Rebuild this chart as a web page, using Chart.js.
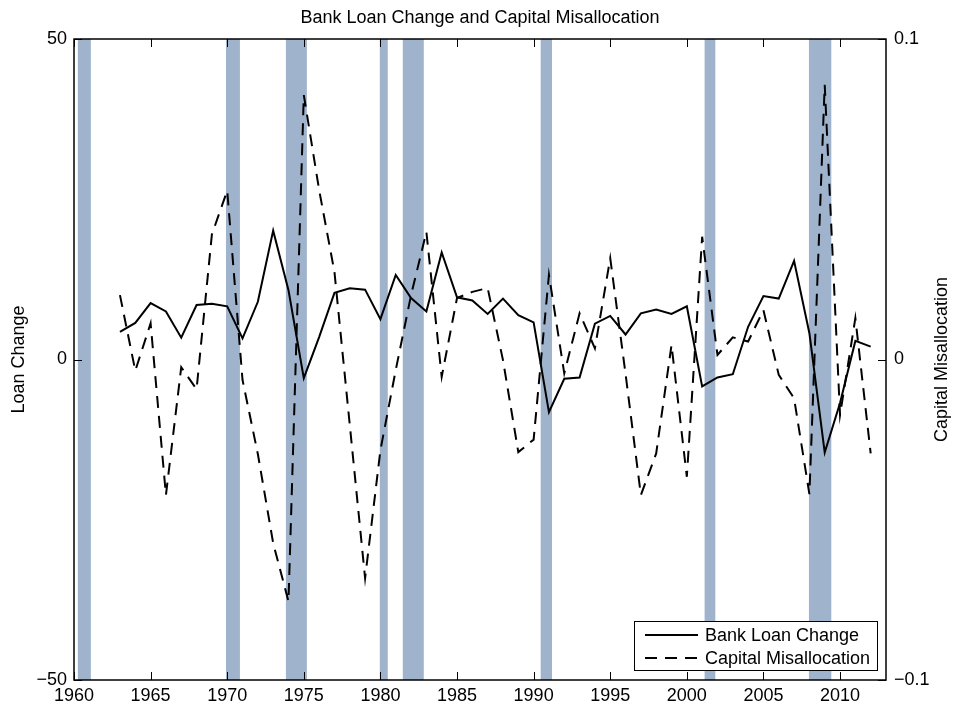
<!DOCTYPE html>
<html><head><meta charset="utf-8">
<script src="https://cdn.jsdelivr.net/npm/chart.js@4.4.1/dist/chart.umd.min.js"></script>
<style>html,body{margin:0;padding:0;background:#fff}canvas{display:block}</style>
</head><body>
<canvas id="c" width="955" height="707"></canvas>
<script>
const years = [1963,1964,1965,1966,1967,1968,1969,1970,1971,1972,1973,1974,1975,1976,1977,1978,1979,1980,1981,1982,1983,1984,1985,1986,1987,1988,1989,1990,1991,1992,1993,1994,1995,1996,1997,1998,1999,2000,2001,2002,2003,2004,2005,2006,2007,2008,2009,2010,2011,2012];
const loanChange = [4.3,5.7,8.8,7.5,3.4,8.5,8.7,8.3,3.3,9.0,20.1,10.8,-2.9,3.5,10.4,11.1,10.9,6.3,13.2,9.6,7.5,16.7,9.7,9.2,7.1,9.5,6.9,5.8,-8.2,-3.0,-2.8,5.6,6.8,3.9,7.2,7.8,7.1,8.3,-4.2,-2.8,-2.3,5.1,9.9,9.5,15.4,4.1,-14.5,-6.8,2.9,2.0];
const capitalMisallocation = [0.0201,-0.0035,0.0113,-0.0423,-0.0024,-0.0093,0.0390,0.0527,-0.0064,-0.0295,-0.0573,-0.0755,0.0825,0.0529,0.0273,-0.0204,-0.0682,-0.0283,-0.0033,0.0201,0.0398,-0.0054,0.0192,0.0211,0.0223,-0.0002,-0.0289,-0.0250,0.0264,-0.0043,0.0144,0.0035,0.0316,-0.0045,-0.0423,-0.0293,0.0045,-0.0366,0.0383,0.0014,0.0069,0.0056,0.0154,-0.0048,-0.0121,-0.0420,0.0857,-0.0173,0.0129,-0.0293];
const recessionStarts = [1960.25,1969.92,1973.83,1979.96,1981.46,1990.46,2001.16,2007.97];
const recessionEnds = [1961.10,1970.83,1975.20,1980.48,1982.83,1991.20,2001.86,2009.43];
const xTicks = [1960,1965,1970,1975,1980,1985,1990,1995,2000,2005,2010];
const leftTicks = [-50,0,50];
const leftTickLabels = ['\u221250','0','50'];
const rightTicks = [-0.1,0,0.1];
const rightTickLabels = ['\u22120.1','0','0.1'];
const rightAxisTitle = 'Capital Misallocation';

const FONT = '"Liberation Sans", Arial, Helvetica, sans-serif';
const SHADE = 'rgb(159,180,204)';
const DASH = [12,8];

const pts = (vals) => years.map((y,i) => ({x:y, y:vals[i]}));

const recessionPlugin = {
  id:'recessions',
  beforeDatasetsDraw(chart){
    const {ctx, chartArea:a, scales:{x}} = chart;
    ctx.save();
    ctx.fillStyle = SHADE;
    recessionStarts.forEach((s,i)=>{
      const x0 = x.getPixelForValue(s), x1 = x.getPixelForValue(recessionEnds[i]);
      ctx.fillRect(x0, a.top, x1-x0, a.bottom-a.top);
    });
    ctx.restore();
  }
};

const framePlugin = {
  id:'frame',
  afterDatasetsDraw(chart){
    const {ctx, chartArea:a, scales} = chart;
    ctx.save();
    ctx.strokeStyle = '#000';
    ctx.lineWidth = 1.5;
    ctx.strokeRect(a.left, a.top, a.right-a.left, a.bottom-a.top);
    ctx.lineWidth = 1;
    const L = 8;
    ctx.beginPath();
    xTicks.forEach(v=>{
      const px = Math.round(scales.x.getPixelForValue(v))+0.5;
      ctx.moveTo(px, a.bottom); ctx.lineTo(px, a.bottom-L);
      ctx.moveTo(px, a.top); ctx.lineTo(px, a.top+L);
    });
    leftTicks.forEach(v=>{
      const py = Math.round(scales.y.getPixelForValue(v))+0.5;
      ctx.moveTo(a.left, py); ctx.lineTo(a.left+L, py);
    });
    rightTicks.forEach(v=>{
      const py = Math.round(scales.y2.getPixelForValue(v))+0.5;
      ctx.moveTo(a.right, py); ctx.lineTo(a.right-L, py);
    });
    ctx.stroke();
    ctx.restore();
  },
  afterDraw(chart){
    const {ctx, chartArea:a} = chart;
    const ds = chart.data.datasets;
    // right axis title, rotated like the left one (reads bottom to top)
    ctx.save();
    ctx.font = '18px ' + FONT;
    ctx.fillStyle = '#000';
    ctx.textAlign = 'center';
    ctx.textBaseline = 'middle';
    ctx.translate(942, (a.top + a.bottom)/2);
    ctx.rotate(-Math.PI/2);
    ctx.fillText(rightAxisTitle, 0, 0);
    ctx.restore();

    const bx1 = a.right-8, by1 = a.bottom-9, bx0 = bx1-244, by0 = by1-50;
    ctx.save();
    ctx.fillStyle = '#fff';
    ctx.fillRect(bx0, by0, bx1-bx0, by1-by0);
    ctx.strokeStyle = '#000';
    ctx.lineWidth = 1;
    ctx.strokeRect(bx0+0.5, by0+0.5, bx1-bx0-1, by1-by0-1);
    const order = [1,0];
    const rowsY = [by0+14, by0+37];
    ctx.font = '18px ' + FONT;
    ctx.textBaseline = 'middle';
    ctx.textAlign = 'left';
    ctx.fillStyle = '#000';
    order.forEach((di,r)=>{
      const d = ds[di];
      ctx.beginPath();
      ctx.lineWidth = d.borderWidth;
      ctx.setLineDash(d.borderDash || []);
      ctx.moveTo(bx0+11, rowsY[r]); ctx.lineTo(bx0+64, rowsY[r]);
      ctx.stroke();
      ctx.setLineDash([]);
      ctx.fillText(d.label, bx0+71, rowsY[r]+1);
    });
    ctx.restore();
  }
};

new Chart(document.getElementById('c'), {
  type:'line',
  data:{
    datasets:[
      {label:'Capital Misallocation', data:pts(capitalMisallocation), yAxisID:'y2', borderColor:'#000', borderWidth:2, borderDash:DASH, borderCapStyle:'butt', pointRadius:0, tension:0, fill:false, order:0},
      {label:'Bank Loan Change', data:pts(loanChange), yAxisID:'y', borderColor:'#000', borderWidth:2, pointRadius:0, tension:0, fill:false, order:1}
    ]
  },
  options:{
    responsive:false,
    animation:false,
    devicePixelRatio:1,
    layout:{padding:0},
    plugins:{
      legend:{display:false},
      tooltip:{enabled:false},
      title:{display:true, text:'Bank Loan Change and Capital Misallocation', color:'#000', fullSize:false,
        font:{family:FONT, size:18, weight:'normal', lineHeight:1.2}, padding:{top:7,bottom:10.4}}
    },
    scales:{
      x:{type:'linear', position:'bottom', min:1960, max:2013,
        grid:{display:false, drawTicks:false}, border:{display:false},
        afterBuildTicks:s=>{s.ticks = xTicks.map(v=>({value:v}));},
        afterFit:s=>{s.height = 27;},
        ticks:{color:'#000', font:{family:FONT, size:18}, padding:5, maxRotation:0, autoSkip:false, callback:v=>String(v)}
      },
      y:{type:'linear', position:'left', min:-50, max:50,
        grid:{display:false, drawTicks:false}, border:{display:false},
        afterBuildTicks:s=>{s.ticks = leftTicks.map(v=>({value:v}));},
        afterFit:s=>{s.width = 74;},
        ticks:{color:'#000', font:{family:FONT, size:18}, padding:7, callback:v=>leftTickLabels[leftTicks.indexOf(v)]},
        title:{display:true, text:'Loan Change', color:'#000', font:{family:FONT, size:18}, padding:{top:8,bottom:0}}
      },
      y2:{type:'linear', position:'right', min:-0.1, max:0.1,
        grid:{display:false, drawTicks:false}, border:{display:false},
        afterBuildTicks:s=>{s.ticks = rightTicks.map(v=>({value:v}));},
        afterFit:s=>{s.width = 69;},
        ticks:{color:'#000', font:{family:FONT, size:18}, padding:8, callback:v=>rightTickLabels[rightTicks.indexOf(v)]}
      }
    }
  },
  plugins:[recessionPlugin, framePlugin]
});
</script>
</body></html>
